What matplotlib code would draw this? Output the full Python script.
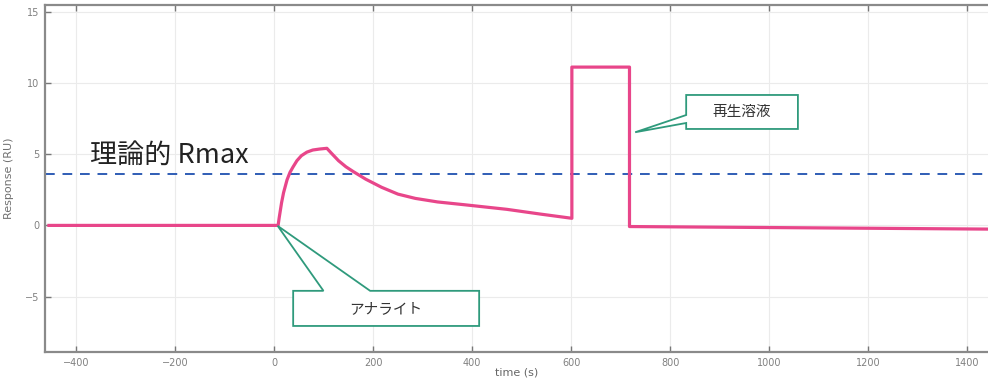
import numpy as np
import matplotlib
matplotlib.use("Agg")
import matplotlib.pyplot as plt
from matplotlib.patches import Polygon

# sensorgram (time s, response RU)
time_s = [-455, 8, 10, 15, 19, 26, 32, 38, 46, 55, 66, 78, 92, 106.5,
          115, 130, 145, 160, 185, 217, 250, 285, 330, 385, 470, 537, 601.4,
          601.4, 717.8, 717.8, 1442]
response = [0, 0, 0.5, 1.6, 2.3, 3.2, 3.73, 4.1, 4.55, 4.9, 5.15, 5.3, 5.37, 5.42,
            5.1, 4.55, 4.12, 3.78, 3.25, 2.68, 2.2, 1.9, 1.65, 1.45, 1.13, 0.8, 0.5,
            11.13, 11.13, -0.08, -0.26]
rmax = 3.6

x_ticks = [-400, -200, 0, 200, 400, 600, 800, 1000, 1200, 1400]
y_ticks = [-5, 0, 5, 10, 15]

cjk = ['Noto Sans CJK JP', 'DejaVu Sans']

fig = plt.figure(figsize=(9.88, 3.8), dpi=100)
ax = fig.add_axes([0.0455, 0.0737, 0.9545, 0.9133])

ax.plot(time_s, response, color='#e8468a', lw=2.3, solid_joinstyle='round', zorder=3)
ax.axhline(rmax, color='#2f5db5', lw=1.4, ls=(0, (5, 4)), zorder=2)

ax.set_xlim(-463, 1442)
ax.set_ylim(-8.9, 15.5)
ax.set_xticks(x_ticks)
ax.set_yticks(y_ticks)
ax.set_xticklabels([str(v).replace('-', '\u2212') for v in x_ticks])
ax.set_yticklabels([str(v).replace('-', '\u2212') for v in y_ticks])
ax.grid(color='#ebebeb', lw=0.8)
ax.set_axisbelow(True)
ax.tick_params(direction='in', length=4, width=1, color='#777', labelcolor='#808080',
               labelsize=7, top=True, pad=4)
for s in ['left', 'bottom', 'top']:
    ax.spines[s].set_color('#8a8a8a')
    ax.spines[s].set_linewidth(1.6)
ax.spines['right'].set_visible(False)
ax.set_xlabel('time (s)', fontsize=8, color='#666', labelpad=0)
ax.set_ylabel('Response (RU)', fontsize=8, color='#707070', labelpad=8)

ax.text(-372, 4.95, '理論的 Rmax', family=cjk, fontsize=19.5, color='#222', va='center')

green = '#2f9a7c'
# analyte callout, notch on top edge pointing to injection start
ana = Polygon([(38.4, -4.6), (99.6, -4.6), (7, -0.03), (193.9, -4.6), (414.1, -4.6),
               (414.1, -7.07), (38.4, -7.07)], closed=True, fc='white', ec=green,
              lw=1.3, zorder=4)
ax.add_patch(ana)
ax.text(226, -5.85, 'アナライト', family=cjk, fontsize=10.5, color='#333',
        ha='center', va='center', zorder=5)

# regeneration callout, notch on left edge
reg = Polygon([(832.3, 9.17), (1058, 9.17), (1058, 6.78), (832.3, 6.78),
               (832.3, 7.2), (729.3, 6.55), (832.3, 7.76)], closed=True, fc='white',
              ec=green, lw=1.3, zorder=4)
ax.add_patch(reg)
ax.text(945, 7.97, '再生溶液', family=cjk, fontsize=10.5, color='#333',
        ha='center', va='center', zorder=5)

fig.savefig('out.png', dpi=100)
